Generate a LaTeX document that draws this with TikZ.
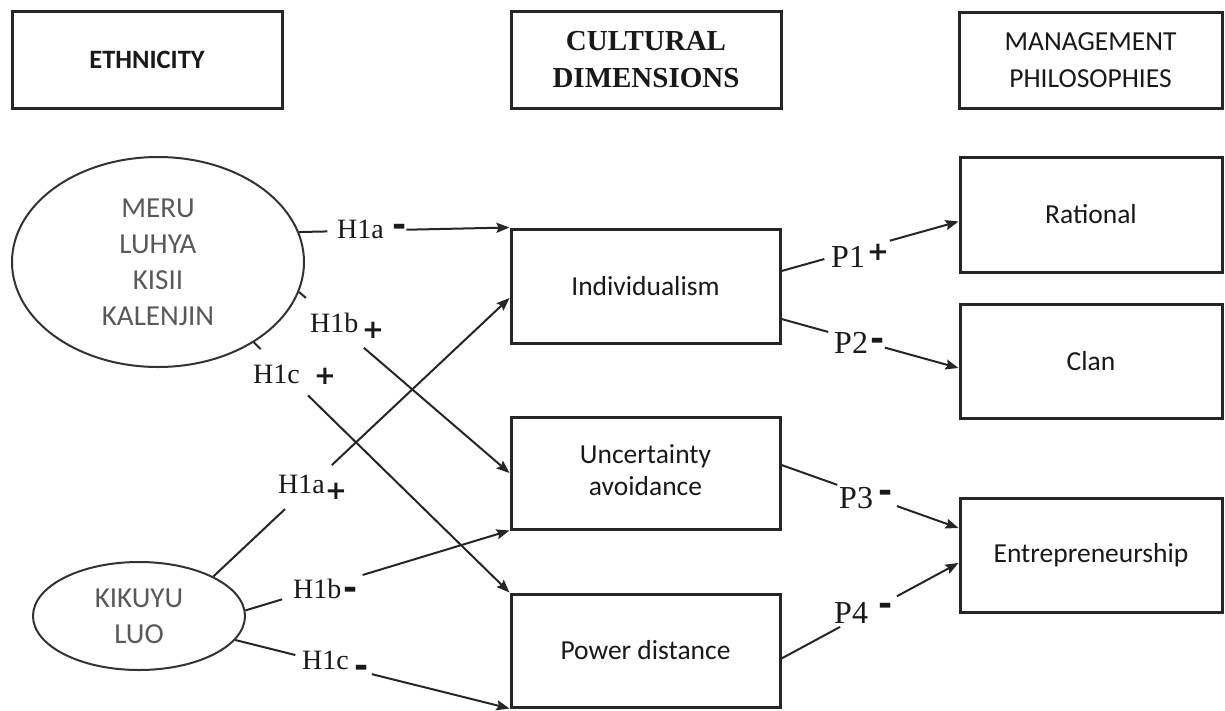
\documentclass[tikz,border=0pt]{standalone}
\usepackage{fontspec}
\setmainfont{Liberation Serif}
\newfontfamily\calfont{Carlito}
\newfontfamily\signfont{DejaVu Sans}
\usetikzlibrary{calc,arrows.meta,shapes.geometric}

% a connector that is interrupted where its label sits
\newcommand\gapconn[4]{%
  \draw[conn] (#1) -- ($(#1)!#3!(#2)$);
  \draw[arr] ($(#1)!#4!(#2)$) -- (#2);}

\begin{document}
\begin{tikzpicture}[x=1pt,y=-1pt,
  hdrbox/.style={draw=black!85,line width=3pt,inner sep=0pt,align=center,
    text=black!90,minimum width=270pt,minimum height=97pt},
  dimbox/.style={draw=black!85,line width=3pt,inner sep=0pt,align=center,
    minimum width=269pt,minimum height=113pt,text=black!90,
    font=\calfont\fontsize{27.5}{32}\selectfont},
  philbox/.style={dimbox,minimum width=262pt,minimum height=114pt},
  group/.style={ellipse,draw=black!80,line width=2pt,inner sep=0pt,align=center,
    text=black!65,font=\calfont\fontsize{29}{36}\selectfont},
  conn/.style={line width=2pt,draw=black!85},
  arr/.style={conn,-{Stealth[length=13pt,width=10pt,inset=2pt]}},
  hlab/.style={anchor=base west,inner sep=0pt,text=black!90,
    font=\fontsize{28}{28}\selectfont},
  plab/.style={hlab,font=\fontsize{32}{32}\selectfont},
  plus/.style={anchor=base,inner sep=0pt,text=black!90,
    font=\signfont\bfseries\fontsize{26}{26}\selectfont},
  minus/.style={anchor=base,inner sep=0pt,text=black!90,
    font=\signfont\bfseries\fontsize{34}{34}\selectfont},
]
\useasboundingbox[fill=white] (0,0) rectangle (1225,710);

% column headings
\node[hdrbox,font=\calfont\bfseries\fontsize{26.5}{32}\selectfont] (eth) at (147,60) {ETHNICITY};
\node[hdrbox,font=\bfseries\fontsize{29}{37}\selectfont] (cult) at (646,59.5) {CULTURAL\\DIMENSIONS};
\node[hdrbox,minimum width=263pt,minimum height=96pt,
  font=\calfont\fontsize{27.5}{37}\selectfont] (mgmt) at (1090.5,60) {MANAGEMENT\\PHILOSOPHIES};

% ethnic groups
\node[group,minimum width=292pt,minimum height=210pt] (meru) at (158,262)
  {MERU\\LUHYA\\KISII\\KALENJIN};
\node[group,minimum width=212pt,minimum height=108pt] (kik) at (139,616)
  {KIKUYU\\LUO};

% cultural dimensions
\node[dimbox,minimum height=114pt] (indiv) at (645.5,286) {Individualism};
\node[dimbox,minimum height=112pt] (unc) at (645.5,473)
  {\raisebox{24pt}{\begin{tabular}{@{}c@{}}Uncertainty\\avoidance\end{tabular}}};
\node[dimbox] (pow) at (645.5,650.5) {Power distance};

% management philosophies
\node[philbox,minimum height=115pt] (rat) at (1091,214.5) {Rational};
\node[philbox] (clan) at (1091,361) {Clan};
\node[philbox] (ent) at (1091,555) {Entrepreneurship};

% connector ends
\coordinate (m1) at (meru.12);
\coordinate (m2) at (meru.-12);
\coordinate (m3) at (meru.-40);
\coordinate (k1) at (kik.28);
\coordinate (k2) at (kik.3);
\coordinate (k3) at (kik.-14);
\coordinate (indivin) at ($(indiv.west)+(0,12)$);
\coordinate (iout1) at ($(indiv.east)+(0,-15)$);
\coordinate (iout2) at ($(indiv.east)+(0,33)$);
\coordinate (uout) at ($(unc.east)+(0,-8)$);
\coordinate (pout) at ($(pow.east)+(0,8)$);
\coordinate (ratin) at ($(rat.west)+(0,7)$);
\coordinate (clanin) at ($(clan.west)+(0,7)$);
\coordinate (entin1) at ($(ent.west)+(0,-27)$);
\coordinate (entin2) at ($(ent.west)+(0,8)$);

% hypotheses
\gapconn{m1}{indiv.north west}{0.135}{0.51}
\gapconn{m2}{unc.west}{0.033}{0.308}
\gapconn{m3}{pow.north west}{0.027}{0.212}
\gapconn{k1}{indivin}{0.242}{0.40}
\gapconn{k2}{unc.south west}{0.139}{0.444}
\gapconn{k3}{pow.south west}{0.219}{0.498}

% propositions
\gapconn{iout1}{ratin}{0.242}{0.612}
\gapconn{iout2}{clanin}{0.264}{0.584}
\gapconn{uout}{entin1}{0.315}{0.652}
\gapconn{pout}{entin2}{0.331}{0.652}

% labels
\node[hlab] (h1am) at (337,238) {H1a};
\node[minus] (h1ams) at (400,236.5) {-};
\node[hlab] (h1bm) at (310,332) {H1b};
\node[plus] (h1bms) at (373,338.5) {+};
\node[hlab] (h1cm) at (253,383) {H1c};
\node[plus] (h1cms) at (325,384.5) {+};
\node[hlab] (h1ak) at (278,493) {H1a};
\node[plus] (h1aks) at (336,499.5) {+};
\node[hlab] (h1bk) at (293,598) {H1b};
\node[minus] (h1bks) at (351,599.5) {-};
\node[hlab] (h1ck) at (302,669) {H1c};
\node[minus] (h1cks) at (362,677.5) {-};

\node[plab] (p1) at (831,267) {P1};
\node[plus] (p1s) at (878,260.5) {+};
\node[plab] (p2) at (834,353) {P2};
\node[minus] (p2s) at (878,350.5) {-};
\node[plab] (p3) at (839,508) {P3};
\node[minus] (p3s) at (886,502.5) {-};
\node[plab] (p4) at (834,623) {P4};
\node[minus] (p4s) at (886,615.5) {-};
\end{tikzpicture}
\end{document}
